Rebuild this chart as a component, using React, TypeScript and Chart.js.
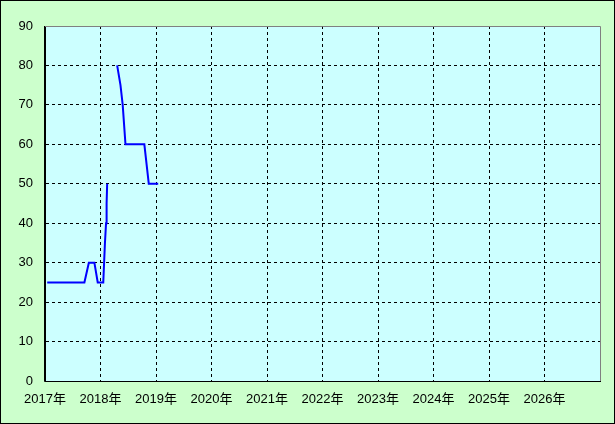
import React, { useEffect, useRef } from "react";
import { Chart, registerables } from "chart.js";

Chart.register(...registerables);

// Data (x in fractional years)
const years: number[] = [
  2017.04, 2017.71, 2017.79, 2017.89, 2017.95, 2018.05, 2018.08, 2018.1, 2018.11, 2018.12,
  2018.2,
  2018.3, 2018.36, 2018.4, 2018.45, 2018.79, 2018.87, 2019.04,
];
const values: (number | null)[] = [
  25, 25, 30, 30, 25, 25, 35, 40, 45, 50,
  null,
  80, 75, 70, 60, 60, 50, 50,
];
const xMin = 2017;
const xMax = 2027;
const yMin = 0;
const yMax = 90;
const yStep = 10;
const yearSuffix = "年";

const FONT = "'Liberation Sans', 'Noto Sans CJK JP', sans-serif";

const bgPlugin = {
  id: "bgPlugin",
  beforeDraw(chart: any) {
    const { ctx, chartArea, width, height } = chart;
    ctx.save();
    ctx.fillStyle = "#ccffcc";
    ctx.fillRect(0, 0, width, height);
    ctx.fillStyle = "#ccffff";
    ctx.fillRect(chartArea.left, chartArea.top, chartArea.right - chartArea.left, chartArea.bottom - chartArea.top);
    ctx.restore();
  },
  afterDraw(chart: any) {
    const { ctx, chartArea, width, height } = chart;
    ctx.save();
    ctx.strokeStyle = "#808080";
    ctx.lineWidth = 1;
    ctx.beginPath();
    ctx.moveTo(chartArea.left, chartArea.top + 0.5);
    ctx.lineTo(chartArea.right + 0.5, chartArea.top + 0.5);
    ctx.lineTo(chartArea.right + 0.5, chartArea.bottom);
    ctx.stroke();
    ctx.strokeStyle = "#000000";
    ctx.strokeRect(0.5, 0.5, width - 1, height - 1);
    ctx.restore();
  },
};

export default function App() {
  const ref = useRef<HTMLCanvasElement | null>(null);
  useEffect(() => {
    document.body.style.margin = "0";
    const canvas = ref.current!;
    const chart = new Chart(canvas, {
      type: "line",
      data: {
        datasets: [
          {
            data: years.map((x, i) => ({ x, y: values[i] })),
            borderColor: "#0000ff",
            borderWidth: 2,
            pointRadius: 0,
            tension: 0,
            spanGaps: false,
            fill: false,
          },
        ],
      },
      options: {
        animation: false,
        responsive: false,
        events: [],
        layout: { padding: { left: 0, top: 26, right: 15, bottom: 0 } },
        plugins: { legend: { display: false }, tooltip: { enabled: false } },
        scales: {
          x: {
            type: "linear",
            min: xMin,
            max: xMax,
            afterFit(scale: any) {
              scale.height = 43;
            },
            ticks: {
              stepSize: 1,
              autoSkip: false,
              maxRotation: 0,
              padding: 11,
              color: "#000000",
              font: { family: FONT, size: 13 },
              callback: (v: any) => (v >= xMax ? "" : `${v}${yearSuffix}`),
            },
            grid: {
              drawTicks: false,
              color: (c: any) => (c.tick && (c.tick.value === xMin || c.tick.value === xMax) ? "rgba(0,0,0,0)" : "#000000"),
              lineWidth: 1,
            },
            border: { display: true, color: "#000000", width: 1, dash: [3, 3] },
          },
          y: {
            type: "linear",
            min: yMin,
            max: yMax,
            afterFit(scale: any) {
              scale.width = 45;
            },
            ticks: {
              stepSize: yStep,
              padding: 12,
              color: "#000000",
              font: { family: FONT, size: 13 },
            },
            grid: {
              drawTicks: false,
              color: (c: any) => (c.tick && (c.tick.value === yMin || c.tick.value === yMax) ? "rgba(0,0,0,0)" : "#000000"),
              lineWidth: 1,
            },
            border: { display: true, color: "#000000", width: 1, dash: [3, 3] },
          },
        },
      },
      plugins: [bgPlugin],
    });
    // solid axis lines
    const axisPlugin = {
      id: "axisSolid",
      afterDraw(ch: any) {
        const { ctx, chartArea } = ch;
        ctx.save();
        ctx.strokeStyle = "#000000";
        ctx.lineWidth = 1;
        ctx.setLineDash([]);
        ctx.beginPath();
        ctx.moveTo(chartArea.left - 0.5, chartArea.top);
        ctx.lineTo(chartArea.left - 0.5, chartArea.bottom + 0.5);
        ctx.lineTo(chartArea.right + 1, chartArea.bottom + 0.5);
        ctx.stroke();
        ctx.restore();
      },
    };
    (chart as any).config.plugins.push(axisPlugin);
    chart.update();
    return () => chart.destroy();
  }, []);
  return (
    <div style={{ width: 615, height: 424 }}>
      <canvas ref={ref} width={615} height={424} style={{ display: "block" }} />
    </div>
  );
}
